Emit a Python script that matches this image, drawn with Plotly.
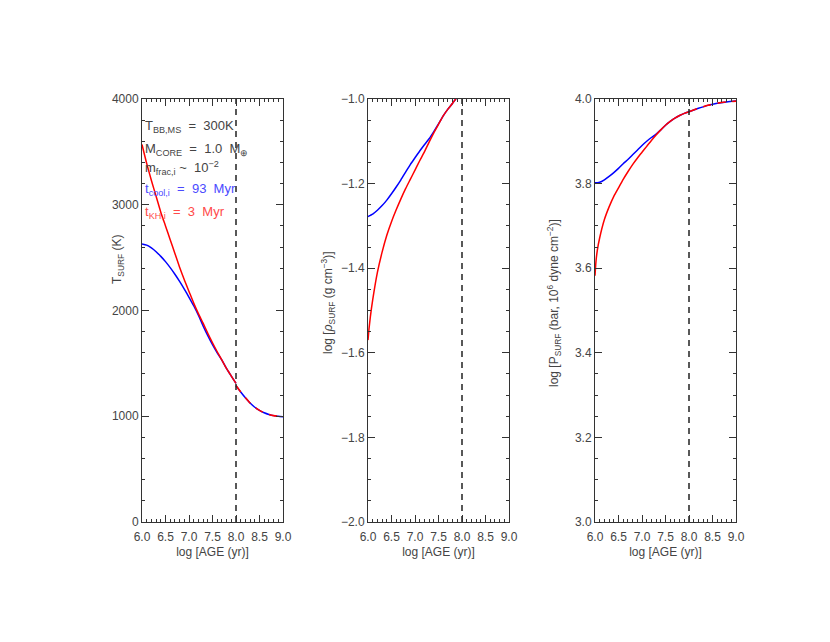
import plotly.graph_objs as go
from plotly.subplots import make_subplots

# ==== DATA ====
log_age = [6.0, 6.1, 6.2, 6.3, 6.4, 6.5, 6.6, 6.7, 6.8, 6.9, 7.0,
           7.1, 7.2, 7.3, 7.4, 7.5, 7.6, 7.7, 7.8, 7.9, 8.0]
log_age_late = [8.0, 8.1, 8.2, 8.3, 8.4, 8.5, 8.6, 8.7, 8.8, 8.9, 9.0]
age_cut = 8.0

# surface temperature (K)
tsurf_kh = [3570, 3390, 3230, 3080, 2930, 2800, 2670, 2540, 2410, 2290, 2180,
            2070, 1970, 1880, 1785, 1695, 1610, 1530, 1450, 1380, 1310]
tsurf_cool = [2630, 2618, 2592, 2556, 2512, 2462, 2405, 2343, 2275, 2202, 2125,
              2045, 1955, 1855, 1762, 1677, 1600, 1530, 1450, 1380, 1310]
tsurf_late = [1290, 1230, 1175, 1125, 1085, 1055, 1033, 1017, 1006, 1000, 995]

# log surface density
rho_age = [6.0, 6.02, 6.05, 6.1, 6.2, 6.3, 6.4, 6.5, 6.6, 6.7, 6.8, 6.9, 7.0,
           7.1, 7.2, 7.3, 7.4, 7.5, 7.6, 7.7, 7.8, 7.9, 8.0]
rho_kh = [-1.57, -1.545, -1.515, -1.475, -1.41, -1.362, -1.322, -1.29, -1.262,
          -1.236, -1.212, -1.19, -1.168, -1.146, -1.125, -1.102, -1.08, -1.06,
          -1.04, -1.024, -1.01, -0.995, -0.98]
rho_cool = [-1.278, -1.277, -1.275, -1.272, -1.263, -1.252, -1.239, -1.224,
            -1.208, -1.191, -1.173, -1.155, -1.139, -1.123, -1.108, -1.094,
            -1.077, -1.059, -1.04, -1.024, -1.01, -0.995, -0.98]

# log surface pressure
p_age = [6.0, 6.02, 6.05, 6.1, 6.2, 6.3, 6.4, 6.5, 6.6, 6.7, 6.8, 6.9, 7.0,
         7.1, 7.2, 7.3, 7.4, 7.5, 7.6, 7.7, 7.8, 7.9, 8.0]
p_kh = [3.582, 3.615, 3.643, 3.672, 3.715, 3.745, 3.77, 3.79, 3.81, 3.828,
        3.845, 3.86, 3.874, 3.888, 3.902, 3.915, 3.927, 3.938, 3.947, 3.955,
        3.961, 3.966, 3.97]
p_cool = [3.802, 3.802, 3.802, 3.803, 3.809, 3.817, 3.826, 3.836, 3.847, 3.857,
          3.868, 3.879, 3.89, 3.9, 3.909, 3.917, 3.927, 3.938, 3.947, 3.955,
          3.961, 3.966, 3.97]
p_late_age = [8.0, 8.2, 8.4, 8.6, 8.8, 9.0]
p_late = [3.97, 3.978, 3.985, 3.99, 3.993, 3.995]

y_ranges = [(0, 4000), (-2.0, -1.0), (3.0, 4.0)]
# =======================================

RED = '#ff0000'
BLUE = '#0000ff'
TXT = '#444444'
FONT = "Liberation Sans"
W, H, OFF = 830, 642, 7  # page draws ~7px down/right of the paper origin

fig = make_subplots(rows=1, cols=3)


def add_pair(col, x, y_kh, y_cool):
    fig.add_trace(go.Scatter(x=x, y=y_cool, mode='lines',
                             line=dict(color=BLUE, width=1.5, shape='spline', smoothing=0.6)),
                  row=1, col=col)
    fig.add_trace(go.Scatter(x=x, y=y_kh, mode='lines',
                             line=dict(color=RED, width=1.5, shape='spline', smoothing=0.6)),
                  row=1, col=col)


def add_late(col, x, y):
    # blue underneath, red dashes on top -> alternating red/blue
    fig.add_trace(go.Scatter(x=x, y=y, mode='lines',
                             line=dict(color=BLUE, width=1.5, shape='spline', smoothing=0.6)),
                  row=1, col=col)
    fig.add_trace(go.Scatter(x=x, y=y, mode='lines',
                             line=dict(color=RED, width=1.6, dash='8px,7px', shape='spline',
                                       smoothing=0.6)),
                  row=1, col=col)


add_pair(1, log_age, tsurf_kh, tsurf_cool)
add_late(1, log_age_late, tsurf_late)
add_pair(2, rho_age, rho_kh, rho_cool)
add_pair(3, p_age, p_kh, p_cool)
add_late(3, p_late_age, p_late)

for i, (lo, hi) in enumerate(y_ranges):
    fig.add_trace(go.Scatter(x=[age_cut, age_cut], y=[lo, hi], mode='lines',
                             line=dict(color='#222222', width=1.5, dash='6px,5px')),
                  row=1, col=i + 1)


def px_x(p):
    return (p - OFF) / W


def px_y(p):
    return 1 - (p - OFF) / H


x_domains = [(px_x(141), px_x(282)), (px_x(367), px_x(508)), (px_x(594), px_x(735))]
y_domain = [px_y(521), px_y(98)]

axis_common = dict(showgrid=False, zeroline=False, showline=True, linecolor='#333333',
                   linewidth=1, mirror='ticks', ticks='inside', ticklen=7, tickcolor='#333333',
                   automargin=False,
                   tickfont=dict(family=FONT, size=12, color=TXT))

y_titles = ["T<sub>SURF</sub> (K)",
            "log [<i>ρ</i><sub>SURF</sub> (g cm<sup>−3</sup>)]",
            "log [P<sub>SURF</sub> (bar, 10<sup>6</sup> dyne cm<sup>−2</sup>)]"]
y_title_px = [(117, 258), (327, 302), (553, 302)]
y_dticks = [1000, 0.2, 0.2]
y_minor = [200, 0.05, 0.05]

for i in range(3):
    sfx = '' if i == 0 else str(i + 1)
    fig.layout['xaxis' + sfx].update(
        domain=x_domains[i], range=[6.0, 9.0], dtick=0.5, tick0=6.0, tickformat='.1f',
        ticklabelstandoff=4,
        minor=dict(dtick=0.1, ticklen=3, ticks='inside', tickcolor='#333333'),
        title=dict(text="log [AGE (yr)]", font=dict(family=FONT, size=12, color=TXT), standoff=4),
        **axis_common)
    fig.layout['yaxis' + sfx].update(
        domain=y_domain, range=list(y_ranges[i]), dtick=y_dticks[i],
        tickformat='d' if i == 0 else '.1f',
        minor=dict(dtick=y_minor[i], ticklen=3, ticks='inside', tickcolor='#333333'),
        **axis_common)
    tx, ty = y_title_px[i]
    fig.add_annotation(x=px_x(tx), y=px_y(ty),
                       xref='paper', yref='paper', text=y_titles[i], showarrow=False,
                       textangle=-90, xanchor='center', yanchor='middle',
                       font=dict(family=FONT, size=12, color=TXT))

notes = [("T<sub>BB,MS</sub>  =  300K", TXT),
         ("M<sub>CORE</sub>  =  1.0  M<sub>⊕</sub>", TXT),
         ("m<sub>frac,i</sub> ~  10<sup>−2</sup>", TXT),
         ("t<sub>cool,i</sub>  =  93  Myr", '#4a4aff'),
         ("t<sub>KH,i</sub>  =  3  Myr", '#ff4a4a')]
note_y = [3740, 3520, 3350, 3140, 2930]
for (txt, c), yv in zip(notes, note_y):
    fig.add_annotation(x=6.02, y=yv, xref='x', yref='y', text=txt, showarrow=False,
                       xanchor='left', yanchor='middle',
                       font=dict(family=FONT, size=13, color=c))

fig.update_layout(width=W, height=H, showlegend=False,
                  paper_bgcolor='white', plot_bgcolor='white',
                  margin=dict(l=0, r=0, t=0, b=0))

fig.write_html("out.html")
